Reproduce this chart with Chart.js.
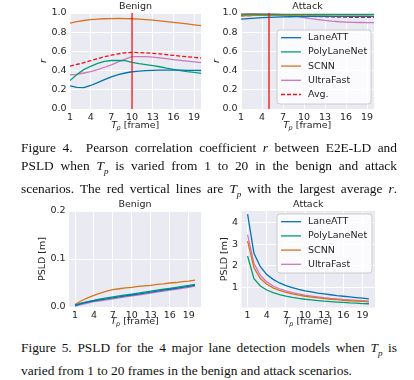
<!DOCTYPE html>
<html><head><meta charset="utf-8">
<script src="https://cdn.jsdelivr.net/npm/chart.js@4.4.1/dist/chart.umd.min.js"></script>
<style>
html,body{margin:0;padding:0;background:#fff;width:414px;height:380px;overflow:hidden;}
canvas.c{position:absolute;}
.cap{position:absolute;left:21px;width:376px;font-family:"Liberation Serif","Times New Roman",serif;font-size:13.4px;line-height:17.8px;color:#111;}
.cap div{text-align:justify;text-align-last:justify;}
.cap div.last{text-align-last:left;}
</style></head><body>
<canvas id="c1" class="c" style="left:0;top:0" width="207" height="135"></canvas>
<canvas id="c2" class="c" style="left:207px;top:0" width="207" height="135"></canvas>
<canvas id="c3" class="c" style="left:0;top:190px" width="207" height="140"></canvas>
<canvas id="c4" class="c" style="left:207px;top:190px" width="207" height="140"></canvas>
<div class="cap" style="top:139px">
<div>Figure 4.&nbsp; Pearson correlation coefficient <i>r</i> between E2E-LD and</div>
<div>PSLD when <i>T<sub style="font-size:9px">p</sub></i> is varied from 1 to 20 in the benign and attack</div>
<div>scenarios. The red vertical lines are <i>T<sub style="font-size:9px">p</sub></i> with the largest average <i>r</i>.</div>
</div>
<div class="cap" style="top:339px">
<div>Figure 5. PSLD for the 4 major lane detection models when <i>T<sub style="font-size:9px">p</sub></i> is</div>
<div class="last">varied from 1 to 20 frames in the benign and attack scenarios.</div>
</div>
<script>
// ---------- data ----------
const tpFrames = [1,2,3,4,5,6,7,8,9,10,11,12,13,14,15,16,17,18,19,20];
const xTickLabels = [1,4,7,10,13,16,19];
const rTicks = [0,0.2,0.4,0.6,0.8,1.0];
const psldBenignTicks = [0,0.1,0.2];
const psldAttackTicks = [1,2,3,4];
const models = ['LaneATT','PolyLaneNet','SCNN','UltraFast'];
const avgLabel = 'Avg.';
const bestTpBenign = 10;
const bestTpAttack = 5;

// Pearson r, benign
const rBenignLaneATT     = [0.240,0.225,0.222,0.245,0.275,0.305,0.335,0.358,0.375,0.388,0.395,0.400,0.403,0.405,0.405,0.405,0.404,0.403,0.402,0.401];
const rBenignPolyLaneNet = [0.296,0.360,0.410,0.445,0.475,0.495,0.505,0.507,0.503,0.485,0.472,0.462,0.452,0.440,0.425,0.412,0.400,0.390,0.382,0.372];
const rBenignSCNN        = [0.895,0.910,0.922,0.930,0.936,0.940,0.942,0.943,0.942,0.940,0.936,0.931,0.925,0.918,0.911,0.903,0.895,0.886,0.877,0.868];
const rBenignUltraFast   = [0.355,0.360,0.375,0.390,0.410,0.435,0.460,0.490,0.520,0.545,0.545,0.545,0.540,0.533,0.524,0.515,0.506,0.498,0.490,0.482];
const rBenignAvg         = [0.447,0.464,0.482,0.503,0.524,0.544,0.561,0.575,0.585,0.590,0.587,0.585,0.580,0.574,0.566,0.559,0.551,0.544,0.538,0.531];

// Pearson r, attack
const rAttackLaneATT     = [0.937,0.942,0.947,0.951,0.954,0.957,0.959,0.961,0.962,0.963,0.964,0.964,0.965,0.965,0.965,0.965,0.965,0.965,0.965,0.965];
const rAttackPolyLaneNet = [0.984,0.985,0.985,0.986,0.986,0.986,0.986,0.986,0.986,0.986,0.986,0.986,0.986,0.986,0.986,0.986,0.986,0.986,0.986,0.986];
const rAttackSCNN        = [0.972,0.974,0.975,0.976,0.976,0.975,0.974,0.973,0.972,0.971,0.970,0.970,0.969,0.968,0.968,0.967,0.967,0.966,0.966,0.965];
const rAttackUltraFast   = [0.990,0.992,0.992,0.991,0.990,0.987,0.982,0.975,0.965,0.953,0.942,0.932,0.923,0.915,0.909,0.905,0.902,0.901,0.900,0.900];
const rAttackAvg         = [0.971,0.973,0.975,0.976,0.977,0.976,0.975,0.974,0.971,0.968,0.966,0.963,0.961,0.959,0.957,0.956,0.955,0.955,0.954,0.954];

// PSLD [m], benign
const psldBenignLaneATT     = [0.003,0.007,0.010,0.013,0.015,0.017,0.019,0.021,0.023,0.025,0.027,0.029,0.031,0.033,0.035,0.037,0.039,0.041,0.043,0.045];
const psldBenignPolyLaneNet = [0.004,0.008,0.011,0.014,0.017,0.019,0.021,0.023,0.025,0.027,0.029,0.031,0.033,0.035,0.037,0.039,0.041,0.043,0.045,0.047];
const psldBenignSCNN        = [0.005,0.013,0.019,0.024,0.029,0.033,0.036,0.038,0.040,0.041,0.043,0.044,0.045,0.047,0.048,0.050,0.051,0.053,0.054,0.056];
const psldBenignUltraFast   = [0.002,0.005,0.008,0.011,0.013,0.015,0.017,0.019,0.021,0.023,0.025,0.027,0.029,0.031,0.033,0.035,0.037,0.039,0.041,0.044];

// PSLD [m], attack
const psldAttackLaneATT     = [4.40,2.58,1.95,1.58,1.36,1.19,1.07,0.97,0.89,0.82,0.77,0.72,0.68,0.64,0.60,0.57,0.54,0.51,0.48,0.45];
const psldAttackPolyLaneNet = [2.45,1.39,1.05,0.86,0.74,0.65,0.58,0.52,0.47,0.43,0.40,0.37,0.34,0.32,0.30,0.28,0.26,0.25,0.23,0.22];
const psldAttackSCNN        = [3.15,1.90,1.40,1.13,0.96,0.84,0.75,0.68,0.62,0.57,0.53,0.49,0.46,0.43,0.41,0.38,0.36,0.34,0.33,0.31];
const psldAttackUltraFast   = [3.45,2.10,1.55,1.24,1.05,0.92,0.82,0.74,0.68,0.62,0.58,0.54,0.50,0.47,0.45,0.42,0.40,0.38,0.36,0.34];

// ---------- styles ----------
const COLORS = ['#0173b2','#029e73','#d8731e','#cc78bc'];
const RED = '#f01010';
const TXT = '#262626';
const FONT = '"DejaVu Sans", sans-serif';

function ds(label, ys, color, dash){
  return {label, data: tpFrames.map((x,i)=>({x, y: ys[i]})), borderColor: color, backgroundColor: color,
          borderWidth: 1.3, borderDash: dash || [], pointRadius: 0, tension: 0, fill: false};
}

const decor = {
  id: 'decor',
  beforeDraw(chart, args, o){
    const {ctx, chartArea: a} = chart;
    ctx.save(); ctx.fillStyle = '#eaeaf2';
    ctx.fillRect(a.left, a.top, a.right - a.left, a.bottom - a.top); ctx.restore();
  },
  afterDatasetsDraw(chart, args, o){
    const {ctx, chartArea: a} = chart;
    if (o.vline != null){
      const x = chart.scales.x.getPixelForValue(o.vline);
      ctx.save(); ctx.strokeStyle = RED; ctx.lineWidth = 1.3;
      ctx.beginPath(); ctx.moveTo(x, a.top); ctx.lineTo(x, a.bottom); ctx.stroke(); ctx.restore();
    }
  },
  afterDraw(chart, args, o){
    const {ctx, chartArea: a} = chart;
    const cx = (a.left + a.right) / 2;
    ctx.save();
    ctx.fillStyle = TXT; ctx.textBaseline = 'middle'; ctx.textAlign = 'center';
    // title
    ctx.font = '9.5px ' + FONT;
    ctx.fillText(o.title, cx, o.titleY);
    // x label: T_p [frame]
    const f1 = 'italic 9.5px ' + FONT, f2 = 'italic 6.5px ' + FONT, f3 = '9.5px ' + FONT;
    ctx.textAlign = 'left';
    ctx.font = f1; const w1 = ctx.measureText('T').width;
    ctx.font = f2; const w2 = ctx.measureText('p').width;
    ctx.font = f3; const w3 = ctx.measureText(' [frame]').width;
    let x0 = cx - (w1 + w2 + w3) / 2;
    ctx.font = f1; ctx.fillText('T', x0, o.xlabelY);
    ctx.font = f2; ctx.fillText('p', x0 + w1 - 0.5, o.xlabelY + 2.5);
    ctx.font = f3; ctx.fillText(' [frame]', x0 + w1 + w2 - 0.5, o.xlabelY);
    // y label
    ctx.save();
    ctx.translate(o.ylabelX, (a.top + a.bottom) / 2);
    ctx.rotate(-Math.PI / 2);
    ctx.textAlign = 'center';
    ctx.font = (o.ylabelItalic ? 'italic ' : '') + '9.5px ' + FONT;
    ctx.fillText(o.ylabel, 0, 0);
    ctx.restore();
    // legend
    if (o.legend){
      const L = o.legend;
      ctx.save();
      ctx.fillStyle = 'rgba(255,255,255,0.8)'; ctx.strokeStyle = '#cccccc'; ctx.lineWidth = 1;
      const r = 3;
      ctx.beginPath();
      ctx.moveTo(L.x + r, L.y); ctx.arcTo(L.x + L.w, L.y, L.x + L.w, L.y + L.h, r);
      ctx.arcTo(L.x + L.w, L.y + L.h, L.x, L.y + L.h, r);
      ctx.arcTo(L.x, L.y + L.h, L.x, L.y, r);
      ctx.arcTo(L.x, L.y, L.x + L.w, L.y, r);
      ctx.closePath(); ctx.fill(); ctx.stroke();
      chart.data.datasets.forEach((d, i) => {
        const y = L.y0 + i * L.row;
        ctx.strokeStyle = d.borderColor; ctx.lineWidth = 1.3;
        ctx.setLineDash(d.borderDash || []);
        ctx.beginPath(); ctx.moveTo(L.x + 4, y); ctx.lineTo(L.x + 24, y); ctx.stroke();
        ctx.setLineDash([]);
        ctx.fillStyle = TXT; ctx.font = '9.5px ' + FONT; ctx.textAlign = 'left'; ctx.textBaseline = 'middle';
        ctx.fillText(d.label, L.x + 31, y);
      });
      ctx.restore();
    }
    ctx.restore();
  }
};

function makeChart(id, cfg){
  const cv = document.getElementById(id);
  const W = cv.width, H = cv.height;
  return new Chart(cv, {
    type: 'line',
    data: {datasets: cfg.datasets},
    plugins: [decor],
    options: {
      responsive: false, animation: false, devicePixelRatio: 1,
      layout: {autoPadding: false, padding: {left: 0, top: cfg.plotT, right: W - cfg.plotR, bottom: 0}},
      plugins: {legend: {display: false}, tooltip: {enabled: false}, decor: cfg.decor},
      scales: {
        x: {type: 'linear', min: cfg.xmin, max: cfg.xmax,
            afterBuildTicks: s => { s.ticks = xTickLabels.map(v => ({value: v})); },
            afterFit: s => { s.height = H - cfg.plotB; },
            grid: {color: '#ffffff', lineWidth: 1, drawTicks: false},
            border: {display: false},
            ticks: {color: TXT, font: {family: FONT, size: 9.5}, padding: 2.5, maxRotation: 0, autoSkip: false,
                    callback: v => String(v)}},
        y: {type: 'linear', min: cfg.ymin, max: cfg.ymax,
            afterBuildTicks: s => { s.ticks = cfg.yTicks.map(v => ({value: v})); },
            afterFit: s => { s.width = cfg.plotL; },
            grid: {color: '#ffffff', lineWidth: 1, drawTicks: false},
            border: {display: false},
            ticks: {color: TXT, font: {family: FONT, size: 9.5}, padding: 3.5, autoSkip: false,
                    callback: cfg.yFmt}}
      }
    }
  });
}

const fmt1 = v => Number(v).toFixed(1);
const fmt0 = v => String(v);

makeChart('c1', {
  plotL: 70, plotR: 201, plotT: 13, plotB: 109, xmin: 1, xmax: 20, ymin: 0, ymax: 1.0, yTicks: rTicks, yFmt: fmt1,
  datasets: [ds(models[0], rBenignLaneATT, COLORS[0]), ds(models[1], rBenignPolyLaneNet, COLORS[1]),
             ds(models[2], rBenignSCNN, COLORS[2]), ds(models[3], rBenignUltraFast, COLORS[3]),
             ds(avgLabel, rBenignAvg, RED, [4, 2])],
  decor: {title: 'Benign', titleY: 7, xlabelY: 126, ylabel: 'r', ylabelItalic: true, ylabelX: 44, vline: bestTpBenign}
});
makeChart('c2', {
  plotL: 34, plotR: 167, plotT: 13, plotB: 109, xmin: 1, xmax: 20, ymin: 0, ymax: 1.0, yTicks: rTicks, yFmt: fmt1,
  datasets: [ds(models[0], rAttackLaneATT, COLORS[0]), ds(models[1], rAttackPolyLaneNet, COLORS[1]),
             ds(models[2], rAttackSCNN, COLORS[2]), ds(models[3], rAttackUltraFast, COLORS[3]),
             ds(avgLabel, rAttackAvg, RED, [4, 2])],
  decor: {title: 'Attack', titleY: 7, xlabelY: 126, ylabel: 'r', ylabelItalic: true, ylabelX: 10, vline: bestTpAttack,
          legend: {x: 70, y: 30, w: 94, h: 74, y0: 37.7, row: 14.2}}
});
makeChart('c3', {
  plotL: 69, plotR: 201, plotT: 21, plotB: 117, xmin: 0.05, xmax: 20.95, ymin: 0, ymax: 0.2, yTicks: psldBenignTicks, yFmt: fmt1,
  datasets: [ds(models[0], psldBenignLaneATT, COLORS[0]), ds(models[1], psldBenignPolyLaneNet, COLORS[1]),
             ds(models[2], psldBenignSCNN, COLORS[2]), ds(models[3], psldBenignUltraFast, COLORS[3])],
  decor: {title: 'Benign', titleY: 15, xlabelY: 132, ylabel: 'PSLD [m]', ylabelItalic: false, ylabelX: 43}
});
makeChart('c4', {
  plotL: 34.5, plotR: 168, plotT: 21, plotB: 117.5, xmin: 0.05, xmax: 20.95, ymin: 0.045, ymax: 4.55, yTicks: psldAttackTicks, yFmt: fmt0,
  datasets: [ds(models[0], psldAttackLaneATT, COLORS[0]), ds(models[1], psldAttackPolyLaneNet, COLORS[1]),
             ds(models[2], psldAttackSCNN, COLORS[2]), ds(models[3], psldAttackUltraFast, COLORS[3])],
  decor: {title: 'Attack', titleY: 15, xlabelY: 132, ylabel: 'PSLD [m]', ylabelItalic: false, ylabelX: 18,
          legend: {x: 70, y: 24, w: 95, h: 59, y0: 31.7, row: 14.2}}
});
</script>
</body></html>
